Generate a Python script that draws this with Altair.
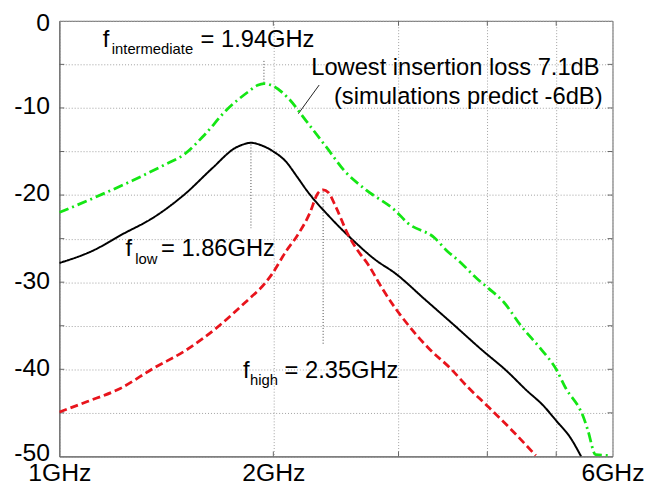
import altair as alt
import pandas as pd

# ---------------- data (frequency in GHz, level in dB) ----------------
green_f = [1.00, 1.12, 1.27, 1.40, 1.50, 1.60, 1.72, 1.84, 1.90, 1.94, 2.00, 2.10, 2.22, 2.37,
           2.53, 2.70, 2.97, 3.09, 3.37, 3.52, 3.63, 3.87, 4.00, 4.22, 4.46, 4.75, 5.00, 5.16,
           5.40, 5.45, 5.54, 5.68, 5.94]
green_db = [-22.0, -20.3, -18.3, -16.6, -15.3, -13.1, -10.2, -8.2, -7.4, -7.2, -7.5, -8.9, -11.4, -14.4,
            -17.4, -19.4, -21.8, -23.2, -24.9, -26.5, -27.4, -29.6, -30.6, -32.3, -35.0, -37.6, -40.0, -42.2,
            -44.6, -45.3, -47.0, -49.8, -49.9]

black_f = [1.00, 1.12, 1.22, 1.355, 1.506, 1.642, 1.767, 1.82, 1.86, 1.91, 2.00, 2.08, 2.16, 2.23,
           2.40, 2.59, 2.78, 2.97, 3.27, 3.60, 3.92, 4.26, 4.54, 4.80, 5.00, 5.23, 5.42]
black_db = [-27.8, -26.3, -24.6, -22.6, -19.8, -16.9, -14.6, -14.15, -14.0, -14.2, -15.0, -16.1, -17.9, -19.5,
            -22.5, -25.2, -27.4, -29.0, -32.0, -35.0, -37.7, -40.2, -42.4, -44.2, -45.9, -47.8, -50.0]

red_f = [1.00, 1.095, 1.218, 1.355, 1.508, 1.678, 1.827, 1.948, 1.99, 2.09, 2.155, 2.25, 2.31, 2.35,
         2.39, 2.45, 2.55, 2.62, 2.72, 2.85, 2.97, 3.06, 3.30, 3.56, 3.75, 4.00, 4.32, 4.68]
red_db = [-44.9, -43.7, -42.2, -39.9, -37.8, -35.0, -32.3, -30.1, -29.1, -26.3, -24.8, -22.1, -19.8, -19.4,
          -19.7, -21.4, -24.6, -26.2, -28.0, -30.8, -33.0, -34.4, -37.5, -40.0, -42.0, -44.2, -46.9, -49.9]

series_names = ["intermediate", "low", "high"]
series_colors = ["#14e614", "#000000", "#e8141c"]
series_dash = [[10, 4, 2, 4], [1, 0], [8, 4]]
series_width = [2.8, 2.0, 2.8]

# axis ticks and labels
x_tick_values = [1, 2, 3, 4, 5, 6]
x_label_values = [1, 2, 6]
x_label_texts = ["1GHz", "2GHz", "6GHz"]
y_tick_values = [0, -5, -10, -15, -20, -25, -30, -35, -40, -45, -50]
y_label_values = [0, -10, -20, -30, -40, -50]

# annotations (text, frequency GHz, level dB)
main_texts = ["f", "= 1.94GHz", "Lowest insertion loss 7.1dB", "(simulations predict -6dB)",
              "f", "= 1.86GHz", "f", "= 2.35GHz"]
main_f = [1.151, 1.580, 2.261, 2.434, 1.239, 1.390, 1.813, 2.074]
main_db = [-3.06, -3.06, -6.24, -9.52, -27.0, -27.0, -41.04, -41.04]

sub_texts = ["intermediate", "low", "high"]
sub_f = [1.185, 1.279, 1.854]
sub_db = [-3.82, -27.9, -41.84]

# dotted marker lines at the peaks
marker_f = [1.94, 1.86, 2.35]
marker_top = [-4.6, -14.2, -19.6]
marker_bottom = [-7.2, -23.8, -37.1]

# leader line for "Lowest insertion loss"
leader_f = [2.320]
leader_f2 = [2.169]
leader_db = [-7.37]
leader_db2 = [-10.66]

# ---------------- chart ----------------
FONT = "Liberation Sans"
x_scale = alt.Scale(type="log", domain=[1, 6], nice=False)
y_scale = alt.Scale(domain=[-50, 0], nice=False, zero=False)

x_expr = " : ".join(f"datum.value == {v} ? '{t}'" for v, t in zip(x_label_values, x_label_texts)) + " : ''"
y_expr = "indexof([" + ",".join(str(v) for v in y_label_values) + "], datum.value) >= 0 ? '' + datum.value : ''"

y_label_offset = {
    "condition": [
        {"test": f"datum.value == {y_label_values[0]}", "value": 2},
        {"test": f"datum.value == {y_label_values[-1]}", "value": -4},
    ],
    "value": -2,
}

x_axis = alt.Axis(values=x_tick_values, labelExpr=x_expr, title=None, grid=True,
                  gridColor="#a0a0a0", gridDash=[1, 2], gridWidth=1,
                  ticks=False, tickSize=0, domain=True, domainColor="#666666",
                  labelFont=FONT, labelFontSize=25, labelColor="black",
                  labelPadding=24, labelBaseline="alphabetic", labelAlign="center",
                  labelFlush=False, labelOverlap=False, labelBound=False)
y_axis = alt.Axis(values=y_tick_values, labelExpr=y_expr, title=None, grid=True,
                  gridColor="#a0a0a0", gridDash=[1, 2], gridWidth=1,
                  ticks=False, tickSize=0, domain=True, domainColor="#666666",
                  labelFont=FONT, labelFontSize=25, labelColor="black",
                  labelPadding=10, labelBaseline="middle", labelOffset=y_label_offset,
                  labelFlush=False, labelOverlap=False, labelBound=False)

layers = []

# inward tick marks on all four sides
yt = pd.DataFrame({"db": y_tick_values[1:-1]})
xt = pd.DataFrame({"f": x_tick_values[1:-1]})
for a, b in [(0, 5), (555, 560)]:
    layers.append(alt.Chart(yt).mark_rule(color="#666666", strokeWidth=1).encode(
        y=alt.Y("db:Q", scale=y_scale, axis=y_axis), x=alt.value(a), x2=alt.value(b)))
for a, b in [(0, 5), (436, 441)]:
    layers.append(alt.Chart(xt).mark_rule(color="#666666", strokeWidth=1).encode(
        x=alt.X("f:Q", scale=x_scale, axis=x_axis), y=alt.value(a), y2=alt.value(b)))

# dotted peak markers
mk = pd.DataFrame({"f": marker_f, "db": marker_top, "db2": marker_bottom})
layers.append(alt.Chart(mk).mark_rule(color="#444444", strokeWidth=1, strokeDash=[1, 2]).encode(
    x=alt.X("f:Q", scale=x_scale, axis=x_axis),
    y=alt.Y("db:Q", scale=y_scale, axis=y_axis), y2="db2:Q"))

# leader line
ld = pd.DataFrame({"f": leader_f, "f2": leader_f2, "db": leader_db, "db2": leader_db2})
layers.append(alt.Chart(ld).mark_rule(color="#222222", strokeWidth=1).encode(
    x=alt.X("f:Q", scale=x_scale, axis=x_axis), x2="f2:Q",
    y=alt.Y("db:Q", scale=y_scale, axis=y_axis), y2="db2:Q"))

# curves
series_data = [(green_f, green_db), (black_f, black_db), (red_f, red_db)]
for name, (fs, dbs), col, dash, w in zip(series_names, series_data, series_colors, series_dash, series_width):
    df = pd.DataFrame({"f": fs, "db": dbs, "series": name})
    layers.append(alt.Chart(df).mark_line(color=col, strokeWidth=w, strokeDash=dash,
                                          interpolate="monotone", clip=True).encode(
        x=alt.X("f:Q", scale=x_scale, axis=x_axis),
        y=alt.Y("db:Q", scale=y_scale, axis=y_axis)))

# texts
mt = pd.DataFrame({"f": main_f, "db": main_db, "text": main_texts})
layers.append(alt.Chart(mt).mark_text(align="left", baseline="alphabetic", font=FONT,
                                      fontSize=24, color="black").encode(
    x=alt.X("f:Q", scale=x_scale, axis=x_axis),
    y=alt.Y("db:Q", scale=y_scale, axis=y_axis), text="text:N"))
st = pd.DataFrame({"f": sub_f, "db": sub_db, "text": sub_texts})
layers.append(alt.Chart(st).mark_text(align="left", baseline="alphabetic", font=FONT,
                                      fontSize=15, color="black").encode(
    x=alt.X("f:Q", scale=x_scale, axis=x_axis),
    y=alt.Y("db:Q", scale=y_scale, axis=y_axis), text="text:N"))

chart = alt.layer(*layers).properties(
    width=560, height=441,
    padding={"left": 52, "top": 10, "right": 40, "bottom": 30},
    autosize=alt.AutoSizeParams(type="none"),
    background="white",
).configure_view(stroke="#666666", strokeWidth=1)

chart.save("out.html", embed_options={"renderer": "svg", "actions": False})
